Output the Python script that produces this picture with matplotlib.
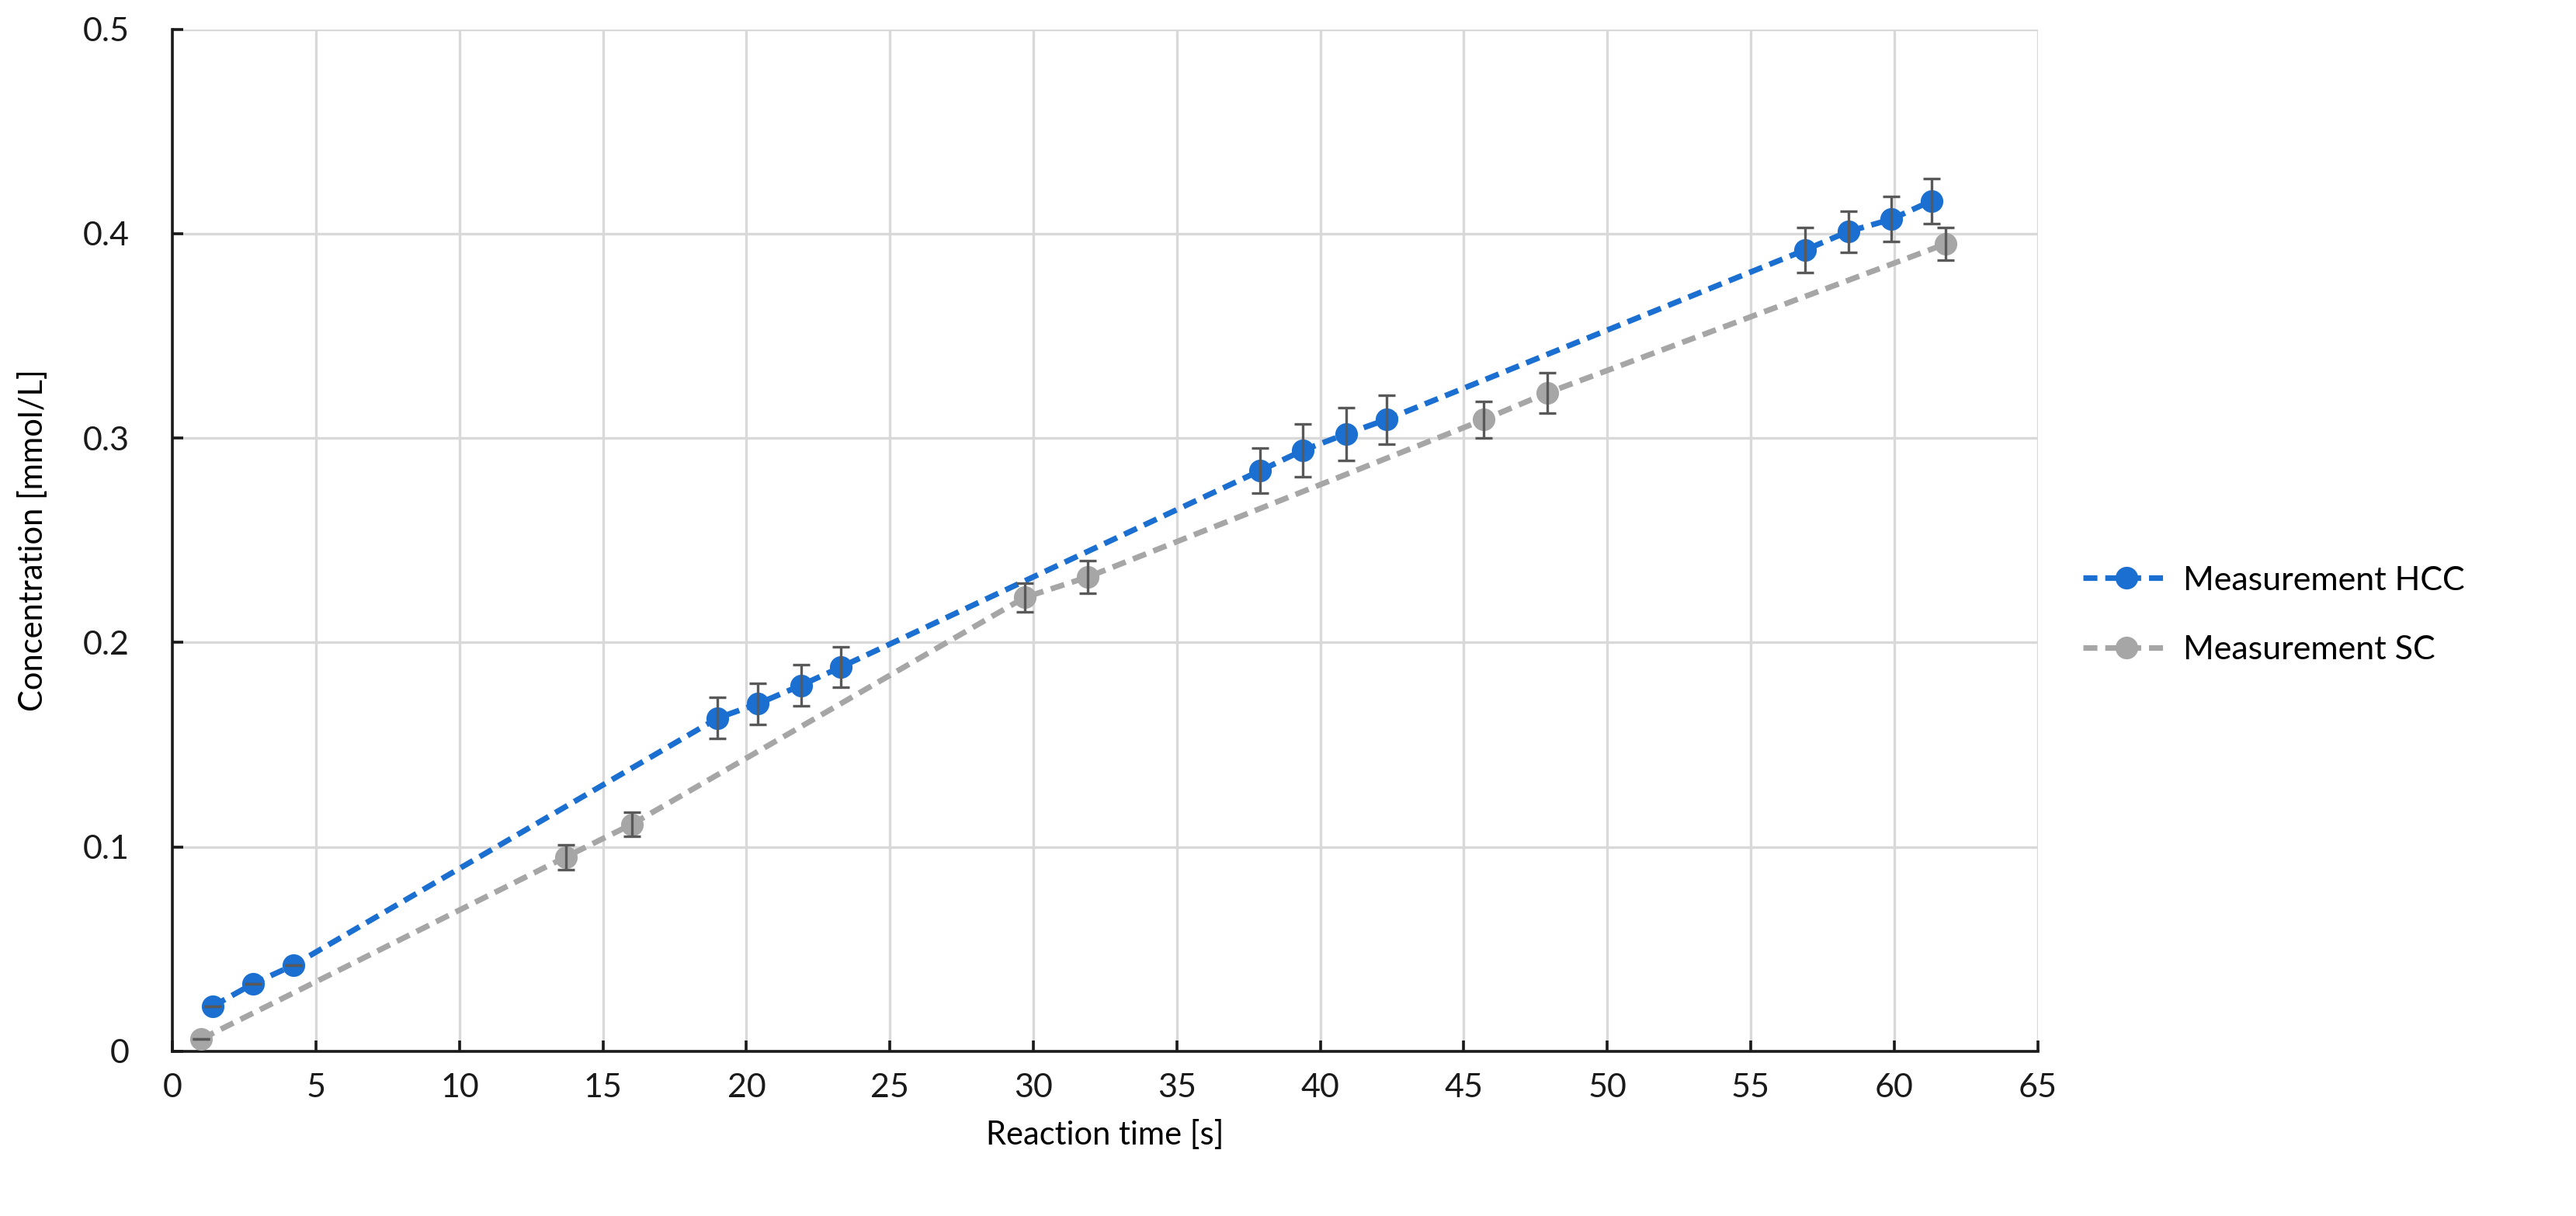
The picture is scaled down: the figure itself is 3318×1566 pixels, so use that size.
import matplotlib.pyplot as plt
from matplotlib.ticker import MultipleLocator, FuncFormatter

plt.rcParams['font.family'] = ['Lato', 'DejaVu Sans']

# measured concentrations [mmol/L] over reaction time [s]
hcc_time = [1.4, 2.8, 4.2, 19.0, 20.4, 21.9, 23.3, 37.9, 39.4, 40.9, 42.3, 56.9, 58.4, 59.9, 61.3]
hcc_conc = [0.022, 0.033, 0.042, 0.163, 0.170, 0.179, 0.188, 0.284, 0.294, 0.302, 0.309, 0.392, 0.401, 0.407, 0.416]
hcc_err = [0.0, 0.0, 0.0, 0.010, 0.010, 0.010, 0.010, 0.011, 0.013, 0.013, 0.012, 0.011, 0.010, 0.011, 0.011]

sc_time = [1.0, 13.7, 16.0, 29.7, 31.9, 45.7, 47.9, 61.8]
sc_conc = [0.006, 0.095, 0.111, 0.222, 0.232, 0.309, 0.322, 0.395]
sc_err = [0.0, 0.006, 0.006, 0.007, 0.008, 0.009, 0.010, 0.008]

BLUE = '#1b6fd1'
GRAY = '#a6a6a6'
ERR = '#595959'

fig = plt.figure(figsize=(16.59, 7.83), dpi=200)
ax = fig.add_axes([0.067, 0.1355, 0.724, 0.8405])

dash = (0, (2.5, 1.4))
for t, c, e, col, lab in [(sc_time, sc_conc, sc_err, GRAY, 'Measurement SC'),
                          (hcc_time, hcc_conc, hcc_err, BLUE, 'Measurement HCC')]:
    ax.plot(t, c, linestyle=dash, color=col, linewidth=2.6, marker='o',
            markersize=10.5, markeredgewidth=0, label=lab, zorder=3)
    ax.errorbar(t, c, yerr=e, fmt='none', ecolor=ERR, elinewidth=1.2,
                capsize=4, capthick=1.2, zorder=4)

ax.set_xlim(0, 65)
ax.set_ylim(0, 0.5)
ax.xaxis.set_major_locator(MultipleLocator(5))
ax.yaxis.set_major_locator(MultipleLocator(0.1))
ax.yaxis.set_major_formatter(FuncFormatter(lambda v, p: '0' if abs(v) < 1e-9 else f'{v:.1f}'))
ax.grid(True, color='#d9d9d9', linewidth=1.2, zorder=0)
ax.set_axisbelow(True)

for s in ['top', 'right']:
    ax.spines[s].set_visible(False)
for s in ['left', 'bottom']:
    ax.spines[s].set_linewidth(1.3)
    ax.spines[s].set_color('#1a1a1a')

ax.tick_params(direction='in', length=5, width=1.3, labelsize=15.5, pad=10, colors='#1a1a1a')
ax.tick_params(axis='y', pad=20)

ax.set_xlabel('Reaction time [s]', fontsize=15, labelpad=8)
ax.set_ylabel('Concentration [mmol/L]', fontsize=15, labelpad=16)

handles, labels = ax.get_legend_handles_labels()
fig.legend(handles[::-1], labels[::-1], loc='center left', bbox_to_anchor=(0.797, 0.494),
           frameon=False, fontsize=15.5, handlelength=2.6, labelspacing=1.2, handletextpad=0.4)

fig.savefig('out.png', dpi=200)
